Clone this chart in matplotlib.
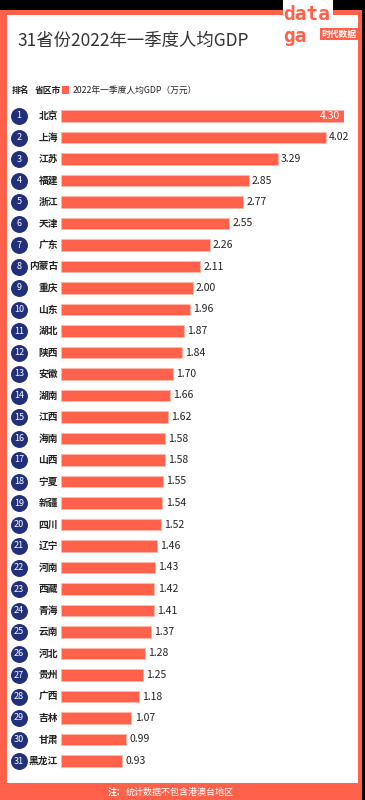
import matplotlib
matplotlib.use('Agg')
import matplotlib.pyplot as plt
import matplotlib.patches as patches
import matplotlib.transforms as mtransforms

plt.rcParams['font.family'] = ['Noto Sans CJK SC', 'DejaVu Sans']

# data
provinces = ['北京', '上海', '江苏', '福建', '浙江', '天津', '广东', '内蒙古', '重庆', '山东',
             '湖北', '陕西', '安徽', '湖南', '江西', '海南', '山西', '宁夏', '新疆', '四川',
             '辽宁', '河南', '西藏', '青海', '云南', '河北', '贵州', '广西', '吉林', '甘肃',
             '黑龙江']
values = [4.30, 4.02, 3.29, 2.85, 2.77, 2.55, 2.26, 2.11, 2.00, 1.96,
          1.87, 1.84, 1.70, 1.66, 1.62, 1.58, 1.58, 1.55, 1.54, 1.52,
          1.46, 1.43, 1.42, 1.41, 1.37, 1.28, 1.25, 1.18, 1.07, 0.99,
          0.93]
ranks = list(range(1, len(provinces) + 1))

title = '31省份2022年一季度人均GDP'
legend_label = '2022年一季度人均GDP（万元）'
note = '统计数据不包含港澳台地区'

ORANGE = '#ff614a'
NAVY = '#22307c'
W, H = 365, 800


def fx(px):
    return px / W


def fy(py):
    # pixel from top -> figure fraction from bottom
    return 1 - py / H


def rect(x0, y0, x1, y1, color, z=-2):
    # rectangle given in pixels from the top-left corner
    fig.patches.append(patches.Rectangle((fx(x0), fy(y1)), fx(x1) - fx(x0), fy(y0) - fy(y1),
                                         transform=fig.transFigure, facecolor=color,
                                         edgecolor='none', zorder=z))


fig = plt.figure(figsize=(W / 100, H / 100), dpi=100)
fig.patch.set_facecolor('black')

# frame: orange border and white panel
rect(0, 10, 362, 800, ORANGE)
rect(7, 15, 358, 783, 'white', z=-1.5)
rect(283, 0, 333, 50, 'white', z=-1.5)

# logo
fig.text(fx(283), fy(14), 'data', color=ORANGE, fontsize=14, fontweight='bold',
         family='DejaVu Sans Mono', ha='left', va='center')
fig.text(fx(283), fy(36), 'ga', color=ORANGE, fontsize=14, fontweight='bold',
         family='DejaVu Sans Mono', ha='left', va='center')
fig.text(fx(339), fy(34), '时代数据', color='white', fontsize=6.3, fontweight='bold',
         ha='center', va='center',
         bbox=dict(boxstyle='square,pad=0.15', fc=ORANGE, ec='none'))

# title
fig.text(fx(17), fy(41), title, color='#333333', fontsize=12.5, ha='left', va='center')

# header row
fig.text(fx(12), fy(90), '排名', color='#222222', fontsize=6.3, fontweight='bold',
         ha='left', va='center')
fig.text(fx(35), fy(90), '省区市', color='#222222', fontsize=6.3, fontweight='bold',
         ha='left', va='center')
rect(62, 86, 69, 94, ORANGE, z=1)
fig.text(fx(73), fy(90), legend_label, color='#222222', fontsize=6.3,
         ha='left', va='center')

# bar axes: x 0..4.3 -> px 61..344, rows at px 116..761
row_h = (761 - 116) / 30
ax = fig.add_axes([fx(61), fy(761 + row_h / 2), fx(283),
                   fy(116 - row_h / 2) - fy(761 + row_h / 2)])
ax.set_xlim(0, 4.30)
ax.set_ylim(len(provinces) - 0.5, -0.5)
ax.axis('off')

ypos = list(range(len(provinces)))
ax.barh(ypos, values, height=0.52, color=ORANGE, edgecolor='#ffb8aa', linewidth=0.6)

for i, v in enumerate(values):
    if i == 0:
        ax.text(v - 0.06, i, '%.2f' % v, color='white', fontsize=7.5,
                ha='right', va='center')
    else:
        ax.text(v + 0.05, i, '%.2f' % v, color='#222222', fontsize=7.5,
                ha='left', va='center')

blend = mtransforms.blended_transform_factory(fig.transFigure, ax.transData)
ax.scatter([fx(19)] * len(ranks), ypos, s=125, color=NAVY, transform=blend,
           clip_on=False, zorder=3)
for i, r in enumerate(ranks):
    ax.text(fx(19), i, str(r), color='white', fontsize=6.5, ha='center',
            va='center', transform=blend, zorder=4)
    ax.text(fx(58), i, provinces[i], color='#222222', fontsize=7, fontweight='bold',
            ha='right', va='center', transform=blend)

# footnote
fig.text(fx(126), fy(792), '注：', color='white', fontsize=6.5, fontweight='bold',
         ha='right', va='center')
fig.text(fx(126), fy(792), note, color='white', fontsize=6.5, ha='left', va='center')

fig.savefig('out.png', dpi=100, facecolor=fig.get_facecolor())
